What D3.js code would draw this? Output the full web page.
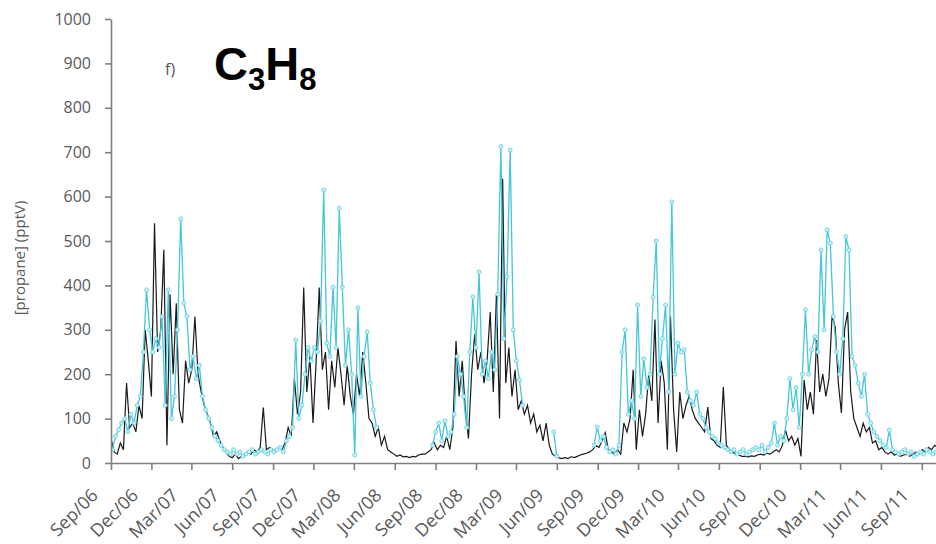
<!DOCTYPE html>
<html>
<head>
<meta charset="utf-8">
<script src="https://cdn.jsdelivr.net/npm/d3@7"></script>
<style>
body { margin: 0; background: #fff; }
</style>
</head>
<body>
<svg width="936" height="544"></svg>
<script>
// weekly samples, one array per season (Sep -> Sep)
var blackStart = "2006-09-01";
var black0607 = [55,25,20,45,30,180,80,90,70,130,100,300,230,150,540,250,300,480,40,380,200,360,120,90,230,180,210,330,200,160,130,110,90,60,70,50,35,25,15,12,20,10,15,20,25,20,30,25,35,125,30,35];
var black0708 = [30,25,35,30,45,80,60,190,110,160,395,160,240,90,230,395,210,250,120,230,170,260,200,130,220,150,110,200,150,250,180,100,90,60,80,40,60,30,25,20,15,18,14,15,12,15,14,18,20,20,25,30];
var black0809 = [45,30,40,35,60,30,80,275,150,230,120,55,200,290,210,250,180,230,340,160,380,100,640,180,260,150,210,120,140,110,130,90,110,70,85,50,90,40,20,15,12,10,12,10,14,12,15,18,20,22,25,30,40];
var black0910 = [35,50,68,30,25,20,30,20,90,70,100,210,30,120,60,110,200,140,323,90,230,180,30,330,120,25,160,100,130,150,120,100,90,80,70,126,55,50,40,35,171,40,30,25,20,18,15,15,14,16,15,18];
var black1011 = [20,18,22,20,25,30,25,40,74,50,60,40,55,15,187,120,160,110,277,160,200,150,190,333,306,180,113,300,340,160,100,80,60,90,70,80,45,50,30,35,25,20,25,18,20,15,18,20,15,20,25,20,30,25,35,30,40,35];

var cyanStart = "2006-09-04";
var cyan0607 = [30,60,75,90,100,70,110,90,130,150,250,390,300,250,280,260,330,130,390,100,150,300,550,360,330,210,240,190,220,150,120,100,80,60,50,40,30,25,20,30,20,25,15,20,25,30,20,25,30,25,20,30];
var cyan0708 = [25,30,35,25,50,60,80,277,100,130,200,260,230,260,250,320,615,270,240,396,260,574,396,220,300,200,18,349,150,240,295,180,120,80,
  null,null,null,null,null,null,null,null,null,null,null,null,null,null,null,null,null,40];
var cyan0809 = [70,90,50,95,60,70,110,240,200,150,80,250,374,260,430,200,230,190,250,210,380,713,280,420,705,300,230,187,130,
  null,null,null,null,null,null,null,null,null,70,15,null,null,null,null,null,null,null,null,null,null,null,40];
var cyan0910 = [81,50,60,35,25,30,20,40,250,300,110,140,100,356,150,235,170,200,374,500,200,280,356,160,588,200,270,250,255,160,140,130,160,110,100,80,70,60,55,45,40,35,30,25,30,20,25,30,20,25,30,35];
var cyan1011 = [30,40,25,35,45,90,40,60,50,100,190,120,170,80,200,345,200,255,285,250,480,300,525,495,330,250,200,280,510,480,240,220,180,150,200,110,90,70,60,50,40,35,74,30,25,20,25,30,20,25,15,20,25,20,30,25,20,25];

var yTicks = [0,100,200,300,400,500,600,700,800,900,1000];
var xTickDates = ["2006-09-01","2006-12-01","2007-03-01","2007-06-01","2007-09-01","2007-12-01","2008-03-01","2008-06-01","2008-09-01","2008-12-01","2009-03-01","2009-06-01","2009-09-01","2009-12-01","2010-03-01","2010-06-01","2010-09-01","2010-12-01","2011-03-01","2011-06-01","2011-09-01"];
var xTickLabels = ["Sep/06","Dec/06","Mar/07","Jun/07","Sep/07","Dec/07","Mar/08","Jun/08","Sep/08","Dec/08","Mar/09","Jun/09","Sep/09","Dec/09","Mar/10","Jun/10","Sep/10","Dec/10","Mar/11","Jun/11","Sep/11"];

var parse = d3.utcParse("%Y-%m-%d");
var DAY = 24*3600*1000;

function toSeries(start, values) {
  var t0 = parse(start).getTime();
  return values.map(function(v, i) {
    return { date: new Date(t0 + i*7*DAY), value: v };
  });
}

var blackData = toSeries(blackStart, [].concat(black0607, black0708, black0809, black0910, black1011));
var cyanData = toSeries(cyanStart, [].concat(cyan0607, cyan0708, cyan0809, cyan0910, cyan1011));

var plotLeft = 111, plotRight = 936, plotTop = 19, plotBottom = 463;

var x = d3.scaleUtc()
  .domain([parse("2006-09-01"), parse("2011-10-03")])
  .range([plotLeft, plotRight]);
var y = d3.scaleLinear().domain([0, 1000]).range([plotBottom, plotTop]);

var svg = d3.select("svg");

svg.append("clipPath").attr("id", "plot")
  .append("rect").attr("x", plotLeft).attr("y", 0)
  .attr("width", plotRight - plotLeft).attr("height", plotBottom + 1);

var line = d3.line()
  .defined(function(d) { return d.value != null; })
  .x(function(d) { return x(d.date); })
  .y(function(d) { return y(d.value); });

var plot = svg.append("g").attr("clip-path", "url(#plot)");

plot.append("path")
  .datum(blackData)
  .attr("d", line)
  .attr("fill", "none")
  .attr("stroke", "#1a1a1a")
  .attr("stroke-width", 1.2);

plot.append("path")
  .datum(cyanData)
  .attr("d", line)
  .attr("fill", "none")
  .attr("stroke", "#45c6da")
  .attr("stroke-width", 1.3);

plot.selectAll("circle")
  .data(cyanData.filter(function(d) { return d.value != null; }))
  .enter()
  .append("circle")
  .attr("cx", function(d) { return x(d.date); })
  .attr("cy", function(d) { return y(d.value); })
  .attr("r", 2)
  .attr("fill", "#c8f0f6")
  .attr("stroke", "#5fcfe0")
  .attr("stroke-width", 0.8);

// axes
var yAxis = svg.append("g")
  .attr("transform", "translate(" + plotLeft + ",0)")
  .call(d3.axisLeft(y).tickValues(yTicks).tickFormat(d3.format("d"))
    .tickSize(6).tickSizeOuter(0).tickPadding(14));

var xAxis = svg.append("g")
  .attr("transform", "translate(0," + plotBottom + ")")
  .call(d3.axisBottom(x)
    .tickValues(xTickDates.map(parse))
    .tickFormat(function(d, i) { return xTickLabels[i]; })
    .tickSize(7).tickSizeOuter(0));

svg.selectAll(".domain, .tick line")
  .attr("stroke", "#7f7f7f")
  .attr("stroke-width", 1.6);

svg.selectAll(".tick text")
  .attr("fill", "#595959")
  .attr("font-family", "Open Sans, sans-serif")
  .attr("font-size", "16px");

xAxis.selectAll(".tick text")
  .attr("x", 0)
  .attr("y", 0)
  .attr("dy", "0.35em")
  .attr("text-anchor", "end")
  .attr("font-size", "18px")
  .attr("transform", "translate(-17,29) rotate(-45)");

svg.append("text")
  .attr("transform", "translate(25,258) rotate(-90)")
  .attr("text-anchor", "middle")
  .attr("font-family", "Open Sans, sans-serif")
  .attr("font-size", "15px")
  .attr("fill", "#595959")
  .text("[propane] (pptV)");

svg.append("text")
  .attr("x", 165)
  .attr("y", 75)
  .attr("font-family", "Open Sans, sans-serif")
  .attr("font-size", "16px")
  .attr("fill", "#595959")
  .text("f)");

var formula = svg.append("text")
  .attr("x", 214)
  .attr("y", 80)
  .attr("font-family", "Liberation Sans, Arial, sans-serif")
  .attr("font-weight", "bold")
  .attr("font-size", "47px")
  .attr("fill", "#000");
formula.append("tspan").text("C");
formula.append("tspan").attr("dy", 10).attr("font-size", "31px").text("3");
formula.append("tspan").attr("dy", -10).text("H");
formula.append("tspan").attr("dy", 10).attr("font-size", "31px").text("8");
</script>
</body>
</html>
